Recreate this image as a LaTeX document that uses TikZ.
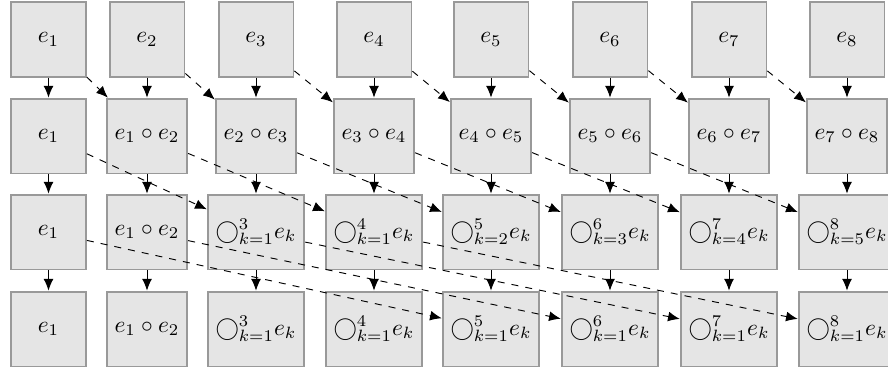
\documentclass[tikz,border=0pt]{standalone}
\usetikzlibrary{arrows.meta}
\tikzset{
  box/.style={draw=black!40, fill=black!10, line width=0.8pt, minimum size=32pt, inner sep=3.33pt},
  down/.style={-{Latex[length=5pt,width=4.2pt]}, line width=0.4pt},
  skip/.style={-{Latex[length=5pt,width=4.2pt]}, dashed, line width=0.4pt},
}
\newcommand{\bc}[2]{$\bigcirc_{k=#1}^{#2}e_k$}
\begin{document}
\begin{tikzpicture}[x=0.4274pt, y=-0.4274pt]
\useasboundingbox (0,0) rectangle (888,372);
% row a
\node[box] (a1) at (48.5,39.5) {$e_1$};
\node[box] (a2) at (147,39.5) {$e_2$};
\node[box] (a3) at (256,39.5) {$e_3$};
\node[box] (a4) at (374,39.5) {$e_4$};
\node[box] (a5) at (491,39.5) {$e_5$};
\node[box] (a6) at (610,39.5) {$e_6$};
\node[box] (a7) at (729,39.5) {$e_7$};
\node[box] (a8) at (847,39.5) {$e_8$};
% row b
\node[box] (b1) at (48.5,136) {$e_1$};
\node[box] (b2) at (147,136) {$e_1\circ e_2$};
\node[box] (b3) at (256,136) {$e_2\circ e_3$};
\node[box] (b4) at (374,136) {$e_3\circ e_4$};
\node[box] (b5) at (491,136) {$e_4\circ e_5$};
\node[box] (b6) at (610,136) {$e_5\circ e_6$};
\node[box] (b7) at (729,136) {$e_6\circ e_7$};
\node[box] (b8) at (847,136) {$e_7\circ e_8$};
% row c
\node[box] (c1) at (48.5,232) {$e_1$};
\node[box] (c2) at (147,232) {$e_1\circ e_2$};
\node[box] (c3) at (256,232) {\bc{1}{3}};
\node[box] (c4) at (374,232) {\bc{1}{4}};
\node[box] (c5) at (491,232) {\bc{2}{5}};
\node[box] (c6) at (610,232) {\bc{3}{6}};
\node[box] (c7) at (729,232) {\bc{4}{7}};
\node[box] (c8) at (847,232) {\bc{5}{8}};
% row d
\node[box] (d1) at (48.5,329) {$e_1$};
\node[box] (d2) at (147,329) {$e_1\circ e_2$};
\node[box] (d3) at (256,329) {\bc{1}{3}};
\node[box] (d4) at (374,329) {\bc{1}{4}};
\node[box] (d5) at (491,329) {\bc{1}{5}};
\node[box] (d6) at (610,329) {\bc{1}{6}};
\node[box] (d7) at (729,329) {\bc{1}{7}};
\node[box] (d8) at (847,329) {\bc{1}{8}};
% vertical arrows
\foreach \i in {1,...,8}{
  \draw[down] (a\i) -- (b\i);
  \draw[down] (b\i) -- (c\i);
  \draw[down] (c\i) -- (d\i);
}
% dashed arrows
\foreach \i [evaluate=\i as \j using int(\i+1)] in {1,...,7}{
  \draw[skip] (a\i) -- (b\j);
}
\foreach \i [evaluate=\i as \j using int(\i+2)] in {1,...,6}{
  \draw[skip] (b\i) -- (c\j);
}
\foreach \i [evaluate=\i as \j using int(\i+4)] in {1,...,4}{
  \draw[skip] (c\i) -- (d\j);
}
\end{tikzpicture}
\end{document}
